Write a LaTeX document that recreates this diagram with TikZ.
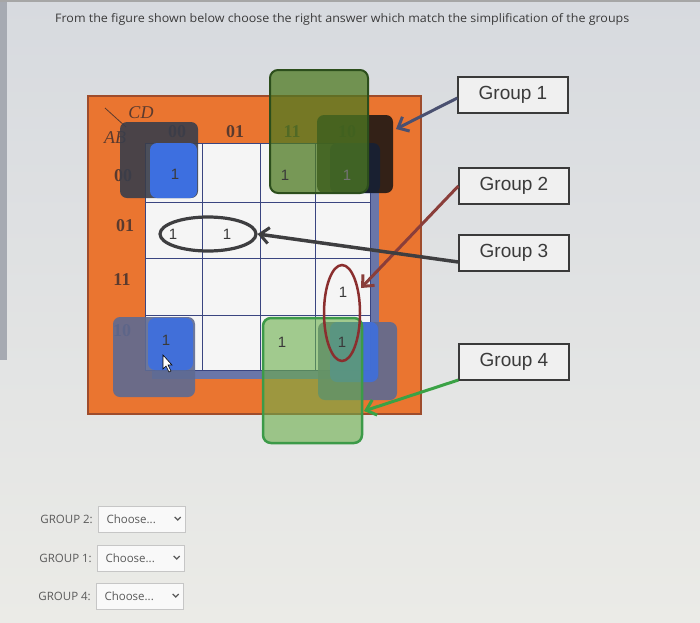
\documentclass[tikz,border=0pt]{standalone}
\usepackage{fontspec}
\setmainfont{Liberation Serif}
\newfontfamily\arialf{Liberation Sans}
\newfontfamily\opensf{Open Sans}
\usetikzlibrary{arrows.meta,shapes.geometric,calc}
\definecolor{bgtop}{HTML}{D7DADF}
\definecolor{bgbot}{HTML}{EBEBE7}
\definecolor{orng}{HTML}{EA7530}
\definecolor{orngd}{HTML}{9E4C2C}
\definecolor{gridl}{HTML}{3A4580}
\definecolor{shadowb}{HTML}{6A76A8}
\definecolor{darkov}{HTML}{393E4B}
\definecolor{blueov}{HTML}{3D6FE0}
\definecolor{grayov}{HTML}{5E6A92}
\definecolor{grntop}{HTML}{4E7A22}
\definecolor{grntopd}{HTML}{2C4E1C}
\definecolor{grnbot}{HTML}{6AAE4A}
\definecolor{grnbotd}{HTML}{3C9A48}
\definecolor{maroonc}{HTML}{8A2E2E}
\definecolor{arra}{HTML}{4A5070}
\definecolor{arrb}{HTML}{8A3E3A}
\definecolor{arrc}{HTML}{3E3E40}
\definecolor{arrd}{HTML}{3AA245}
\definecolor{txtc}{HTML}{3A3A3A}
\definecolor{lblc}{HTML}{5A3A2E}
\definecolor{formtxt}{HTML}{5A5A5A}
\definecolor{stripc}{HTML}{A6AAB2}
\tikzset{
  gbox/.style={draw=txtc, line width=1.3pt, fill=white!88!gray, minimum width=110pt, minimum height=36pt, font=\arialf\fontsize{19}{19}\selectfont, text=txtc, inner sep=0pt},
  one/.style={font=\arialf\fontsize{15}{15}\selectfont, text=txtc, inner sep=0pt},
  hdr/.style={font=\fontsize{18}{18}\selectfont\bfseries, text=lblc, inner sep=0pt},
  arrbase/.style={line width=3pt, -{Straight Barb[length=9pt,width=16pt,line width=3pt]}},
  formlbl/.style={font=\opensf\fontsize{11.5}{11.5}\selectfont, text=formtxt, inner sep=0pt},
  dropbox/.style={draw=gray!45, fill=white!95!gray, minimum width=87pt, minimum height=26pt, inner sep=0pt},
  ov/.style={rounded corners=7pt}
}
\begin{document}
\begin{tikzpicture}[x=1pt,y=-1pt]
\useasboundingbox (0,0) rectangle (700,622);
\shade[top color=bgtop, bottom color=bgbot] (0,0) rectangle (700,622);
\fill[stripc] (0,0) rectangle (7,360);
\fill[gray!70] (0,0) rectangle (700,2);
% title
\node[anchor=base west, inner sep=0pt, text=txtc] (title) at (55,22) {\resizebox{574pt}{9pt}{\opensf From the figure shown below choose the right answer which match the simplification of the groups}};
% orange frame
\draw[fill=orng, draw=orngd, line width=1.2pt] (88,96) rectangle (421,414);
% headers
\draw[lblc, line width=0.8pt] (105,108) -- (126,127);
\node[hdr, font=\fontsize{18}{18}\selectfont\itshape] (cd) at (141,113) {CD};
\node[hdr, font=\fontsize{18}{18}\selectfont\itshape] (ab) at (115,138) {AB};
\node[hdr] (c00) at (177,132) {00};
\node[hdr] (c01) at (235,132) {01};
\node[hdr] (c11) at (292,132) {11};
\node[hdr] (c10) at (347,132) {10};
\node[hdr] (r00) at (123,176) {00};
\node[hdr] (r01) at (125,226) {01};
\node[hdr] (r11) at (122,280) {11};
\node[hdr] (r10) at (122,331) {10};
% grid
\fill[shadowb] (152,150) rectangle (379,379);
\draw[fill=white!92!gray, draw=gridl, line width=1pt] (145,143) rectangle (370,370);
\foreach \xx in {202,260,315} \draw[gridl, line width=1pt] (\xx,143) -- (\xx,370);
\foreach \yy in {202,258,315} \draw[gridl, line width=1pt] (145,\yy) -- (370,\yy);
% corner overlays
\fill[grayov, opacity=0.9, ov] (113,317) rectangle (195,397);
\fill[blueov, opacity=0.9, ov] (148,318) rectangle (193,370);
\fill[grayov, opacity=0.9, ov] (318,322) rectangle (397,400);
\fill[blueov, opacity=0.85, ov] (330,322) rectangle (378,382);
\fill[darkov, opacity=0.9, ov] (120,122) rectangle (198,198);
\fill[blueov, ov] (150,143) rectangle (197,198);
\fill[blueov, ov] (330,143) rectangle (380,193);
\fill[black!85!gray, opacity=0.85, ov] (317,115) rectangle (393,193);
% green groups
\draw[fill=grntop, fill opacity=0.75, draw=grntopd, line width=2pt, rounded corners=8pt] (270,70) rectangle (368,193);
\draw[fill=grnbot, fill opacity=0.6, draw=grnbotd, line width=2.5pt, rounded corners=8pt] (263,318) rectangle (362,443);
\coordinate (t1) at (396,129);
\coordinate (t4) at (364,411);
% ones
\node[one] (m00) at (175,174) {1};
\node[one] (m02) at (285,175) {1};
\node[one, text=black!55] (m03) at (347,175) {1};
\node[one] (m10) at (173,234) {1};
\node[one] (m11) at (227,234) {1};
\node[one] (m23) at (343,292) {1};
\node[one] (m30) at (166,340) {1};
\node[one] (m32) at (282,342) {1};
\node[one] (m33) at (342,342) {1};
% ellipses
\node[ellipse, draw=arrc, line width=3.2pt, minimum width=96pt, minimum height=34pt, inner sep=0pt] (e3) at (208,234) {};
\node[ellipse, draw=maroonc, line width=2.5pt, minimum width=36pt, minimum height=96pt, inner sep=0pt] (e2) at (342,313) {};
\coordinate (t2) at (361,288);
% cursor
\draw[fill=white, draw=black, line width=0.6pt] (163,355) -- (163,369) -- (166,366) -- (169,372) -- (171,371) -- (168,365) -- (172,365) -- cycle;
% group labels
\node[gbox] (g1) at (513,95) {Group 1};
\node[gbox] (g2) at (514,186) {Group 2};
\node[gbox] (g3) at (514,253) {Group 3};
\node[gbox] (g4) at (514,362) {Group 4};
% arrows
\draw[arrbase, arra] ($(g1.west)+(0,3)$) -- (t1);
\draw[arrbase, arrb] (g2.west) -- (t2);
\draw[arrbase, arrc, line width=3.5pt] ($(g3.west)+(0,9)$) -- (e3.east);
\draw[arrbase, arrd] ($(g4.west)+(0,18)$) -- (t4);
% form
\node[formlbl, anchor=east] (l2) at (93,519) {GROUP 2:};
\node[dropbox] (d2) at (142,519) {};
\node[formlbl, anchor=west] (c2) at ($(d2.west)+(8,0)$) {Choose...};
\draw[formtxt, line width=1.3pt] ($(d2.east)+(-11,-2)$) -- ++(3,3) -- ++(3,-3);
\node[formlbl, anchor=east] (l1) at (92,558) {GROUP 1:};
\node[dropbox] (d1) at (141,558) {};
\node[formlbl, anchor=west] (c1) at ($(d1.west)+(8,0)$) {Choose...};
\draw[formtxt, line width=1.3pt] ($(d1.east)+(-11,-2)$) -- ++(3,3) -- ++(3,-3);
\node[formlbl, anchor=east] (l4) at (91,596) {GROUP 4:};
\node[dropbox] (d4) at (140,596) {};
\node[formlbl, anchor=west] (c4) at ($(d4.west)+(8,0)$) {Choose...};
\draw[formtxt, line width=1.3pt] ($(d4.east)+(-11,-2)$) -- ++(3,3) -- ++(3,-3);
\end{tikzpicture}
\end{document}
